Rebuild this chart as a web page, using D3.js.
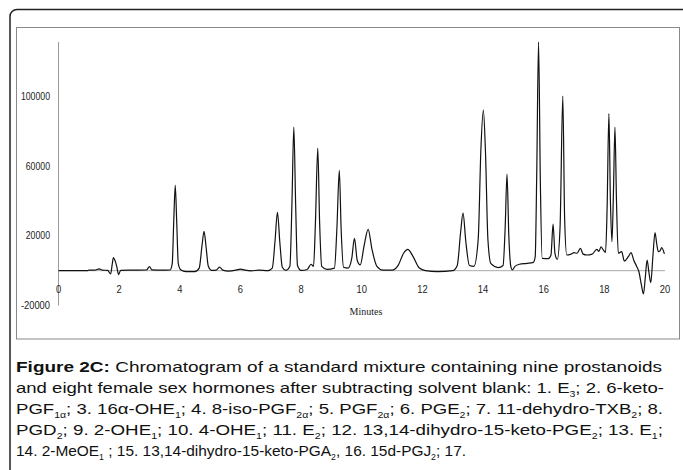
<!DOCTYPE html>
<html>
<head>
<meta charset="utf-8">
<script src="https://cdn.jsdelivr.net/npm/d3@7"></script>
<style>
  body { margin: 0; background: #fff; }
  svg { display: block; }
</style>
</head>
<body>
<script>
// retention time (min) and detector response
var minutes = [0, 0.95, 1.0, 1.2, 1.34, 1.45, 1.62, 1.72, 1.77, 1.81, 1.87, 1.92, 1.98, 2.05, 2.5, 2.9, 3.0, 3.08, 3.4,
  3.68, 3.75, 3.80, 3.85, 3.90, 3.95, 4.03, 4.2, 4.5, 4.64, 4.73, 4.80, 4.87, 4.94, 5.05, 5.2, 5.31, 5.42, 5.6, 5.85,
  6.0, 6.15, 6.35, 6.6, 6.9, 7.05, 7.14, 7.22, 7.30, 7.38, 7.5, 7.63, 7.70, 7.76, 7.82, 7.88, 8.0, 8.2, 8.33, 8.41,
  8.47, 8.55, 8.61, 8.68, 8.85, 9.1, 9.18, 9.26, 9.32, 9.40, 9.55, 9.67, 9.76, 9.85, 9.95, 10.08, 10.21, 10.34, 10.5,
  10.7, 11.0, 11.2, 11.38, 11.52, 11.68, 11.9, 12.1, 12.5, 13.0, 13.15, 13.26, 13.34, 13.43, 13.55, 13.7, 13.84, 13.93,
  14.01, 14.08, 14.16, 14.26, 14.5, 14.66, 14.73, 14.79, 14.85, 14.92, 14.97, 15.05, 15.2, 15.45, 15.66, 15.72, 15.77,
  15.83, 15.89, 15.95, 16.15, 16.24, 16.31, 16.37, 16.45, 16.54, 16.63, 16.69, 16.76, 16.9, 17.0, 17.1, 17.21, 17.3,
  17.42, 17.6, 17.75, 17.82, 17.89, 17.96, 18.04, 18.09, 18.15, 18.2, 18.25, 18.3, 18.35, 18.4, 18.46, 18.57, 18.66,
  18.79, 18.88, 18.97, 19.07, 19.14, 19.22, 19.29, 19.35, 19.41, 19.47, 19.53, 19.60, 19.67, 19.73, 19.78, 19.84,
  19.89, 19.98];

var signal = [0, 0, 300, 300, 1000, 300, 200, -1900, 3500, 7500, 5500, 2500, -2200, 200, 300, 400, 2300, 500, 300,
  400, 4000, 28000, 48900, 27000, 4000, 500, -500, -500, 1500, 14000, 22500, 13000, 2500, 200, 300, 2000, 300, -200, 300,
  900, 300, -100, 300, 0, 1500, 17000, 33400, 16000, 2000, 200, 2500, 40000, 82300, 38000, 3000, 200, 700, 3700, 2500,
  26000, 70200, 28000, 2500, 800, 1500, 24000, 57500, 24000, 2000, 1500, 7000, 18500, 6000, 3300, 14500, 23700, 12000, 2500,
  300, 300, 3000, 10000, 12200, 8500, 1500, 0, -500, 0, 3000, 22000, 33000, 17000, 3000, 2500, 18000, 70000,
  92000, 68000, 18000, 4000, 1800, 3000, 25000, 55300, 20000, 2000, 500, 2500, 3700, 4200, 4800, 8000, 55000,
  131000, 50000, 7000, 6900, 9000, 26700, 10000, 6500, 25000, 100000, 30000, 9000, 9500, 10300, 10000, 12800, 9500,
  9000, 9500, 12200, 11000, 13700, 12000, 10500, 35000, 90000, 40000, 16600, 45000, 82300, 40000, 10000, 10900, 5500,
  8000, 10300, 6000, 2300, -600, -8000, -13300, -4000, 6100, -1000, -6900, 8000, 21800, 15000, 10900, 11500,
  13200, 9600];

var xTicks = [0, 2, 4, 6, 8, 10, 12, 14, 16, 18, 20];
var yTicks = [-20000, 20000, 60000, 100000];

// caption, _{..} marks a subscript
var captionLines = [
  "Chromatogram of a standard mixture containing nine prostanoids",
  "and eight female sex hormones after subtracting solvent blank: 1. E_{3}; 2. 6-keto-",
  "PGF_{1\u03b1}; 3. 16\u03b1-OHE_{1}; 4. 8-iso-PGF_{2\u03b1}; 5. PGF_{2\u03b1}; 6. PGE_{2}; 7. 11-dehydro-TXB_{2}; 8.",
  "PGD_{2}; 9. 2-OHE_{1}; 10. 4-OHE_{1}; 11. E_{2}; 12. 13,14-dihydro-15-keto-PGE_{2}; 13. E_{1};",
  "14. 2-MeOE_{1} ; 15. 13,14-dihydro-15-keto-PGA_{2}, 16. 15d-PGJ_{2}; 17."
];

var width = 683;
var height = 470;

var svg = d3.select('body')
  .append('svg')
  .attr('width', width)
  .attr('height', height);

// outer rounded frame, runs off the right and bottom edges
svg.append('rect')
  .attr('x', 10).attr('y', 9.5)
  .attr('width', 690).attr('height', 480)
  .attr('rx', 7)
  .attr('fill', 'none')
  .attr('stroke', '#222')
  .attr('stroke-width', 1.5);

// chart area box
svg.append('rect')
  .attr('x', 16.5).attr('y', 27.5)
  .attr('width', 663).attr('height', 311.5)
  .attr('fill', 'none')
  .attr('stroke', '#8a8a8a')
  .attr('stroke-width', 1);

var x = d3.scaleLinear().domain([0, 20]).range([58.5, 665]);
var y = d3.scaleLinear().domain([-20000, 131000]).range([305.6, 42]);

// no narrow font installed, so squeeze Liberation Sans instead
var tickFont = '"Liberation Sans", Arial, sans-serif';
var digitW = 4.85;

// y axis line and labels
svg.append('line')
  .attr('x1', x(0)).attr('x2', x(0))
  .attr('y1', y(131000)).attr('y2', y(-20000))
  .attr('stroke', '#9a9a9a');

svg.append('g')
  .selectAll('text')
  .data(yTicks)
  .join('text')
  .attr('x', 50)
  .attr('y', d => y(d))
  .attr('dy', '0.35em')
  .attr('text-anchor', 'end')
  .attr('textLength', d => String(d).length * digitW)
  .attr('lengthAdjust', 'spacingAndGlyphs')
  .style('font-family', tickFont)
  .style('font-size', '10.5px')
  .style('fill', '#222')
  .text(d => d);

// zero line doubles as the x axis
svg.append('line')
  .attr('x1', x(0)).attr('x2', x(20))
  .attr('y1', y(0)).attr('y2', y(0))
  .attr('stroke', '#a8a8a8');

svg.append('g')
  .selectAll('text')
  .data(xTicks)
  .join('text')
  .attr('x', d => x(d))
  .attr('y', 289)
  .attr('dy', '0.35em')
  .attr('text-anchor', 'middle')
  .attr('textLength', d => String(d).length * 5.2)
  .attr('lengthAdjust', 'spacingAndGlyphs')
  .style('font-family', tickFont)
  .style('font-size', '10.5px')
  .style('fill', '#222')
  .text(d => d);

svg.append('text')
  .attr('x', 366)
  .attr('y', 311)
  .attr('dy', '0.35em')
  .attr('text-anchor', 'middle')
  .style('font-family', '"Liberation Serif", "Times New Roman", serif')
  .style('font-size', '10px')
  .style('fill', '#222')
  .text('Minutes');

// the trace
var line = d3.line()
  .x((d, i) => x(minutes[i]))
  .y(d => y(d))
  .curve(d3.curveMonotoneX);

svg.append('path')
  .datum(signal)
  .attr('d', line)
  .attr('fill', 'none')
  .attr('stroke', '#111')
  .attr('stroke-width', 1.2)
  .attr('stroke-linejoin', 'round');

// caption
var capFont = '"Liberation Sans", Arial, sans-serif';
var lineY = [371.5, 392.5, 413.5, 435, 456];
var lineWidth = [646, 648, 647, 647, 450];

captionLines.forEach(function (str, i) {
  var t = svg.append('text')
    .attr('x', 16)
    .attr('y', lineY[i])
    .attr('textLength', lineWidth[i])
    .attr('lengthAdjust', 'spacingAndGlyphs')
    .style('font-family', capFont)
    .style('font-size', '15px')
    .style('fill', '#111');
  if (i === 0) {
    t.append('tspan').style('font-weight', 'bold').text('Figure 2C: ');
  }
  var parts = str.split(/_\{([^}]*)\}/);
  var shifted = false;
  parts.forEach(function (p, j) {
    if (p === '') return;
    var sp = t.append('tspan').text(p);
    if (j % 2 === 1) {
      sp.attr('dy', 4).style('font-size', '8.5px');
      shifted = true;
    } else if (shifted) {
      sp.attr('dy', -4);
      shifted = false;
    }
  });
});
</script>
</body>
</html>
